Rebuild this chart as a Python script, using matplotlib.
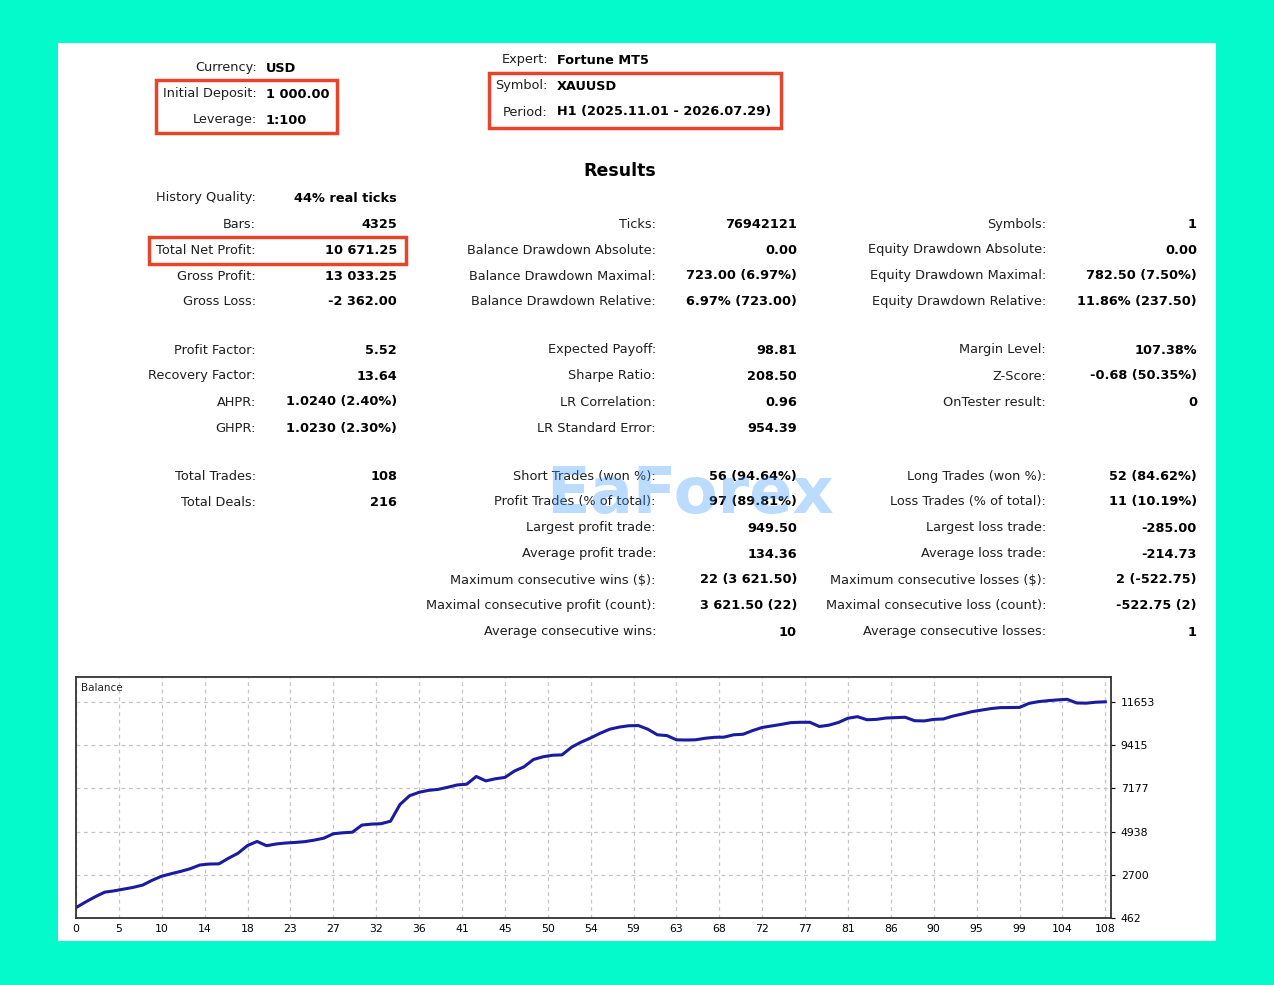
import matplotlib
matplotlib.use("Agg")
import matplotlib.pyplot as plt
from matplotlib.patches import Rectangle

W, H = 1274, 985

# balance after each trade
balance = [1000, 1290, 1560, 1800, 1870, 1960, 2050, 2170, 2420, 2630,
           2760, 2880, 3020, 3210, 3260, 3270, 3560, 3820, 4220, 4430,
           4210, 4300, 4350, 4380, 4420, 4500, 4600, 4830, 4880, 4910,
           5280, 5330, 5350, 5480, 6350, 6800, 6980, 7080, 7130, 7240,
           7360, 7400, 7800, 7570, 7680, 7750, 8080, 8300, 8680, 8820,
           8900, 8920, 9320, 9580, 9800, 10040, 10250, 10360, 10430, 10440,
           10250, 9960, 9920, 9700, 9690, 9700, 9780, 9830, 9840, 9960,
           9990, 10180, 10340, 10420, 10500, 10590, 10610, 10610, 10390, 10460,
           10600, 10820, 10900, 10740, 10760, 10830, 10850, 10870, 10690, 10680,
           10760, 10780, 10930, 11040, 11160, 11240, 11320, 11370, 11375, 11380,
           11590, 11680, 11730, 11770, 11800, 11610, 11600, 11650, 11671]
x_tick_labels = ["0", "5", "10", "14", "18", "23", "27", "32", "36", "41", "45", "50", "54",
                 "59", "63", "68", "72", "77", "81", "86", "90", "95", "99", "104", "108"]
y_ticks = [462, 2700, 4938, 7177, 9415, 11653]

header_left = [("Currency:", "USD"), ("Initial Deposit:", "1 000.00"), ("Leverage:", "1:100")]
header_mid = [("Expert:", "Fortune MT5"), ("Symbol:", "XAUUSD"),
              ("Period:", "H1 (2025.11.01 - 2026.07.29)")]

col1 = [("History Quality:", "44% real ticks", 198), ("Bars:", "4325", 224),
        ("Total Net Profit:", "10 671.25", 250), ("Gross Profit:", "13 033.25", 276),
        ("Gross Loss:", "-2 362.00", 302), ("Profit Factor:", "5.52", 350),
        ("Recovery Factor:", "13.64", 376), ("AHPR:", "1.0240 (2.40%)", 402),
        ("GHPR:", "1.0230 (2.30%)", 428), ("Total Trades:", "108", 476),
        ("Total Deals:", "216", 502)]
col2 = [("Ticks:", "76942121", 224), ("Balance Drawdown Absolute:", "0.00", 250),
        ("Balance Drawdown Maximal:", "723.00 (6.97%)", 276),
        ("Balance Drawdown Relative:", "6.97% (723.00)", 302),
        ("Expected Payoff:", "98.81", 350), ("Sharpe Ratio:", "208.50", 376),
        ("LR Correlation:", "0.96", 402), ("LR Standard Error:", "954.39", 428),
        ("Short Trades (won %):", "56 (94.64%)", 476),
        ("Profit Trades (% of total):", "97 (89.81%)", 502),
        ("Largest profit trade:", "949.50", 528), ("Average profit trade:", "134.36", 554),
        ("Maximum consecutive wins ($):", "22 (3 621.50)", 580),
        ("Maximal consecutive profit (count):", "3 621.50 (22)", 606),
        ("Average consecutive wins:", "10", 632)]
col3 = [("Symbols:", "1", 224), ("Equity Drawdown Absolute:", "0.00", 250),
        ("Equity Drawdown Maximal:", "782.50 (7.50%)", 276),
        ("Equity Drawdown Relative:", "11.86% (237.50)", 302),
        ("Margin Level:", "107.38%", 350), ("Z-Score:", "-0.68 (50.35%)", 376),
        ("OnTester result:", "0", 402),
        ("Long Trades (won %):", "52 (84.62%)", 476),
        ("Loss Trades (% of total):", "11 (10.19%)", 502),
        ("Largest loss trade:", "-285.00", 528), ("Average loss trade:", "-214.73", 554),
        ("Maximum consecutive losses ($):", "2 (-522.75)", 580),
        ("Maximal consecutive loss (count):", "-522.75 (2)", 606),
        ("Average consecutive losses:", "1", 632)]

plt.rcParams['font.family'] = ['DejaVu Sans']
FS = 9.3
RED = '#E5452B'

fig = plt.figure(figsize=(W / 100, H / 100), dpi=100)
fig.patch.set_facecolor('#04F9CB')


def fx(x):
    return x / W


def fy(y):
    return 1 - y / H


def box(x0, y0, x1, y1, **kw):
    fig.patches.append(Rectangle((fx(x0), fy(y1)), fx(x1) - fx(x0), fy(y0) - fy(y1),
                                 transform=fig.transFigure, **kw))


def label(x, y, s, ha='right', bold=False, size=FS, **kw):
    fig.text(fx(x), fy(y), s, ha=ha, va='center', fontsize=size,
             fontweight='bold' if bold else 'normal', color='black' if bold else '#1e1e1e', **kw)


# white report panel
box(58, 43, 1216, 941, facecolor='white', edgecolor='none', zorder=-10)

for i, (k, v) in enumerate(header_left):
    y = 68 + 26 * i
    label(257, y, k)
    label(266, y, v, ha='left', bold=True)
for i, (k, v) in enumerate(header_mid):
    y = 60 + 26 * i
    label(548, y, k)
    label(557, y, v, ha='left', bold=True)

box(156, 80, 337, 133, facecolor='none', edgecolor=RED, linewidth=2.5, zorder=5)
box(489, 73, 781, 128, facecolor='none', edgecolor=RED, linewidth=2.5, zorder=5)

label(620, 171, "Results", ha='center', bold=True, size=12.5)

for rows, lx, vx in [(col1, 256, 397), (col2, 656, 797), (col3, 1046, 1197)]:
    for k, v, y in rows:
        label(lx, y, k)
        label(vx, y, v, bold=True)

box(149, 237, 406, 264, facecolor='none', edgecolor=RED, linewidth=2.5, zorder=5)

# watermark
fig.text(fx(690), fy(495), "EaForex", ha='center', va='center', fontsize=46,
         fontweight='bold', color='#3D9BFF', alpha=0.35, zorder=6)

# balance chart
ax = fig.add_axes([fx(76), fy(918), fx(1111) - fx(76), fy(677) - fy(918)], zorder=2)
ax.plot(range(len(balance)), balance, color='#1B1BA0', linewidth=2.2)
ax.set_xlim(0, 108.6)
ax.set_ylim(462, 12957)
ax.set_xticks([4.5 * i for i in range(len(x_tick_labels))])
ax.set_xticklabels(x_tick_labels, fontsize=7.8)
ax.set_yticks(y_ticks)
ax.set_yticklabels([str(v) for v in y_ticks], fontsize=7.8)
ax.yaxis.tick_right()
ax.tick_params(axis='x', length=0, pad=4)
ax.tick_params(axis='y', length=3, pad=4, direction='out')
ax.grid(True, color='#c4c4c4', linestyle=(0, (3, 3)), linewidth=0.9)
for sp in ax.spines.values():
    sp.set_linewidth(1.3)
    sp.set_color('#333333')
ax.text(0.005, 0.955, "Balance", transform=ax.transAxes, fontsize=7.5,
        ha='left', va='center', color='#222222')

fig.savefig("out.png", dpi=100, facecolor=fig.get_facecolor())
